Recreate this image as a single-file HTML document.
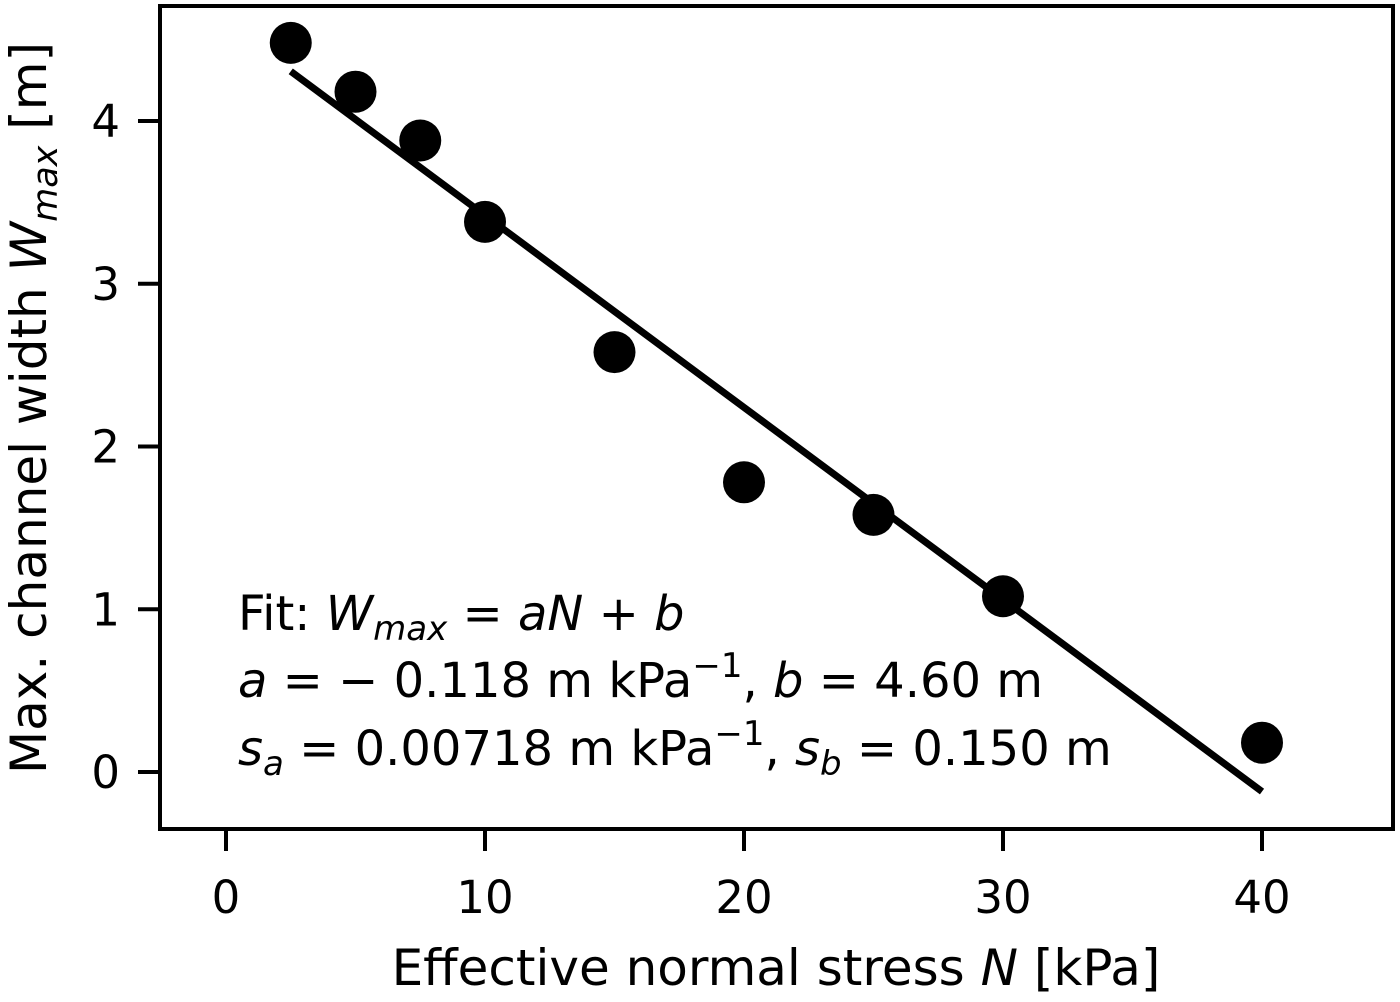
<!DOCTYPE html>
<html><head><meta charset="utf-8"><style>
body{margin:0;background:#fff;}
text{font-family:"DejaVu Sans","Liberation Sans",sans-serif;fill:#000;}
</style></head><body>
<svg id="chart" width="1400" height="997" xmlns="http://www.w3.org/2000/svg">
<rect x="0" y="0" width="1400" height="997" fill="#fff"/>
<g id="marks"></g>
<rect x="160" y="6" width="1233" height="823" fill="none" stroke="#000" stroke-width="4"/>
<g id="ticks"></g>
<text x="776" y="985" font-size="50" text-anchor="middle">Effective normal stress <tspan font-style="italic">N</tspan> [kPa]</text>
<text transform="translate(46,408) rotate(-90)" font-size="50" text-anchor="middle">Max. channel width <tspan font-style="italic">W</tspan><tspan font-style="italic" font-size="35" dy="11">max</tspan><tspan dy="-11"> [m]</tspan></text>
<g font-size="48">
<text x="238" y="630">Fit: <tspan font-style="italic">W</tspan><tspan font-style="italic" font-size="34" dy="10">max</tspan><tspan dy="-10"> = </tspan><tspan font-style="italic">aN</tspan> + <tspan font-style="italic">b</tspan></text>
<text x="238" y="697"><tspan font-style="italic">a</tspan> = − 0.118 m kPa<tspan font-size="34" dy="-20">−1</tspan><tspan dy="20">, </tspan><tspan font-style="italic">b</tspan> = 4.60 m</text>
<text x="238" y="765"><tspan font-style="italic">s</tspan><tspan font-style="italic" font-size="34" dy="10">a</tspan><tspan dy="-10"> = 0.00718 m kPa</tspan><tspan font-size="34" dy="-20">−1</tspan><tspan dy="20">, </tspan><tspan font-style="italic">s</tspan><tspan font-style="italic" font-size="34" dy="10">b</tspan><tspan dy="-10"> = 0.150 m</tspan></text>
</g>
</svg>
<script>
const xVals=[2.5,5,7.5,10,15,20,25,30,40];
const yVals=[4.48,4.18,3.88,3.38,2.58,1.78,1.58,1.08,0.18];
const fitA=-0.118, fitB=4.60;
const fitRange=[2.5,40];
const xTicks=[0,10,20,30,40];
const yTicks=[0,1,2,3,4];
const NS='http://www.w3.org/2000/svg';
function sx(v){return 226+v*25.9;}
function sy(v){return 772-v*162.75;}
const marks=document.getElementById('marks'), ticks=document.getElementById('ticks');
const ln=document.createElementNS(NS,'line');


ln.setAttribute('x1',sx(fitRange[0]));ln.setAttribute('y1',sy(fitA*fitRange[0]+fitB));
ln.setAttribute('x2',sx(fitRange[1]));ln.setAttribute('y2',sy(fitA*fitRange[1]+fitB));
ln.setAttribute('stroke','#000');ln.setAttribute('stroke-width','7');
marks.appendChild(ln);
xVals.forEach((x,i)=>{
 const c=document.createElementNS(NS,'circle');
 
 
 c.setAttribute('cx',sx(x));c.setAttribute('cy',sy(yVals[i]));c.setAttribute('r','21');
 marks.appendChild(c);
});
xTicks.forEach(t=>{
 const l=document.createElementNS(NS,'line');
 
 
 l.setAttribute('x1',sx(t));l.setAttribute('x2',sx(t));l.setAttribute('y1',829);l.setAttribute('y2',851);
 l.setAttribute('stroke','#000');l.setAttribute('stroke-width','4');ticks.appendChild(l);
 const tx=document.createElementNS(NS,'text');
 
 
 tx.setAttribute('x',sx(t));tx.setAttribute('y',913);tx.setAttribute('font-size','45');tx.setAttribute('text-anchor','middle');
 tx.textContent=t;ticks.appendChild(tx);
});
yTicks.forEach(t=>{
 const l=document.createElementNS(NS,'line');
 
 
 l.setAttribute('x1',138);l.setAttribute('x2',160);l.setAttribute('y1',sy(t));l.setAttribute('y2',sy(t));
 l.setAttribute('stroke','#000');l.setAttribute('stroke-width','4');ticks.appendChild(l);
 const tx=document.createElementNS(NS,'text');
 
 
 tx.setAttribute('x',120);tx.setAttribute('y',sy(t)+16);tx.setAttribute('font-size','45');tx.setAttribute('text-anchor','end');
 tx.textContent=t;ticks.appendChild(tx);
});
</script>
</body></html>
